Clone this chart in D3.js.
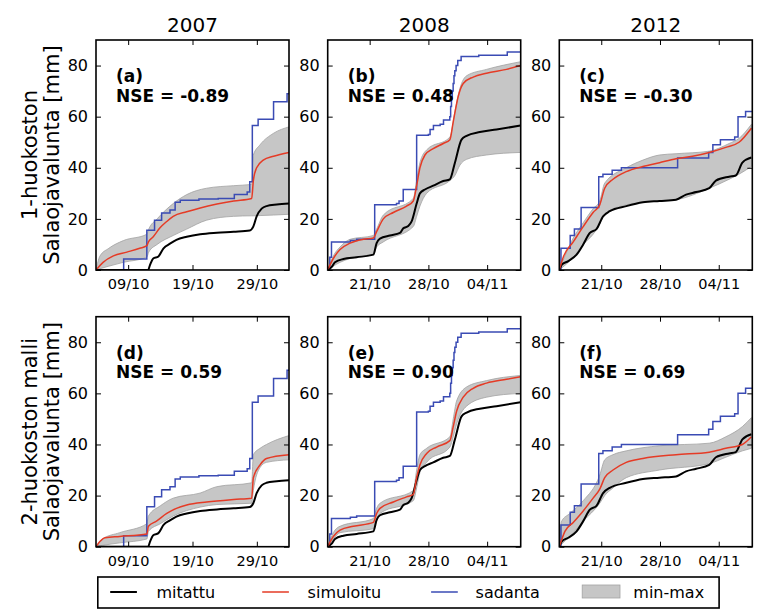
<!DOCTYPE html>
<html>
<head>
<meta charset="utf-8">
<script src="https://cdn.jsdelivr.net/npm/d3@7"></script>
<style>
  html, body { margin: 0; padding: 0; background: #fff; }
  svg { display: block; font-family: "DejaVu Sans", sans-serif; }
</style>
</head>
<body>
<svg id="chart" width="768" height="611"></svg>
<script>
// ---------------- DATA (day = day of October; >31 means November) ----------------
const years = [2007, 2008, 2012];
const dayDomains = [[4, 34], [16, 39], [16, 39]];
const xTickDays = [[9, 19, 29], [21, 28, 35], [21, 28, 35]];
const yTicks = [0, 20, 40, 60, 80];
const rowLabels = [["1-huokoston", "Salaojavalunta [mm]"], ["2-huokoston malli", "Salaojavalunta [mm]"]];
const panelTags = [["(a)", "(b)", "(c)"], ["(d)", "(e)", "(f)"]];
const nseValues = [["-0.89", "0.48", "-0.30"], ["0.59", "0.90", "0.69"]];
const legendLabels = ["mitattu", "simuloitu", "sadanta", "min-max"];

// precipitation (sadanta), cumulative, step
const precip2007 = [[4,0],[8.3,4.3],[11.9,15.6],[13.1,19.5],[14.2,22.3],[15.5,23.5],[16.3,26.5],[17.1,27.3],[20,27.8],[23,28],[25.5,29.5],[27.5,30.5],[27.9,34.5],[28.3,56.5],[29.2,59],[31.6,65.8],[33.7,69],[34,69]];
const precip2008 = [[16,0],[16.25,5],[16.45,11],[18.7,11.5],[19.45,12],[21.6,25.5],[24.2,26],[24.5,27],[25.0,31.5],[26.6,52.7],[28.0,53],[28.2,55],[28.6,56.5],[29.4,57],[29.8,58.7],[30.55,60],[30.65,64],[30.75,67],[30.85,70],[30.95,73],[31.05,76],[31.15,78],[31.3,80],[31.5,82],[31.9,83.5],[34,84],[37.4,85.3],[39,85.3]];
const precip2012 = [[16,0],[16.2,8.5],[17.3,13.5],[17.8,16],[18.6,24.5],[20.7,36.5],[21.2,37.5],[22.3,39],[23.4,40],[30.1,43.8],[33.8,46],[34.3,49],[35.2,51],[36.9,52],[37.3,60],[38.2,62],[39,62]];

// measured (mitattu)
const obs2007 = [[4,0],[12.1,0],[12.4,2],[12.9,4.5],[13.7,5.3],[14.5,8.5],[15.5,10.3],[16.5,11.8],[18.1,13],[20.2,14],[22.8,14.6],[25.4,15],[27.9,15.5],[28.45,17],[28.97,21],[29.75,24],[30.5,25],[32.1,25.6],[34,26]];
const obs2008 = [[16,0],[16.48,1.2],[16.87,3],[17.87,4.3],[19.45,5],[21.44,6],[21.83,10.5],[22.23,12.3],[23.42,13.5],[24.61,14.5],[25.01,16.3],[25.6,17.2],[26.0,19],[26.6,26],[26.99,30],[27.59,31.5],[28.58,33],[29.77,34.8],[30.56,35.5],[31.16,42],[31.95,51],[32.55,52.5],[34.13,54],[36.12,55],[38.98,56.5]];
const obs2012 = [[16,0],[16.28,2],[17.07,3.5],[18.06,6],[18.85,10],[19.64,14.5],[20.43,16],[21.22,21],[22.01,23],[23.98,25],[25.96,26.5],[27.94,27],[29.91,27.5],[31.1,29.5],[32.3,30.5],[33.87,32],[34.66,35],[36.24,36.5],[37.03,37],[37.82,42],[38.89,44]];

// simulated (simuloitu) — row 1: 1-huokoston, row 2: 2-huokoston malli
const sim1_2007 = [[4,0],[5.1,3],[6.7,5.5],[8.8,7],[10.8,8.5],[11.9,9.5],[12.15,11],[12.9,13],[13.95,16.5],[15,19],[16,21],[18.1,22.8],[20.2,24.3],[22.8,25.8],[25.4,27],[28.2,28],[28.46,35],[28.97,40],[30,43],[31.6,44.5],[34,46]];
const sim1_2008 = [[16,0],[16.67,4.5],[17.47,8],[18.66,10.5],[20.25,12],[21.44,12.5],[21.83,15],[22.63,20],[23.82,22.5],[25.4,25],[26.2,27],[26.6,33],[26.99,40],[27.59,45],[28.58,47.5],[29.77,49.5],[30.56,51],[30.96,58],[31.56,68],[32.15,73],[33.34,75.5],[34.93,77],[37.31,78.5],[38.98,80]];
const sim1_2012 = [[16,0],[16.47,5],[17.66,11],[18.85,17],[20.03,22.5],[20.82,25.5],[21.41,32],[22.4,35.5],[23.98,38.5],[25.96,40.5],[27.94,42],[29.91,43.5],[31.89,44.5],[33.87,46],[35.84,48],[37.42,50],[38.89,55.5]];
const sim2_2007 = [[4,0],[4.6,2],[5.4,3.5],[7.7,4],[11.9,5],[12.15,8],[13.4,10],[15,13],[16.5,15],[18.1,16.3],[21.2,17.5],[25.4,18.5],[28.2,19],[28.46,27],[29.5,32],[30.5,34.5],[34,36]];
const sim2_2008 = [[16,0],[16.67,4],[17.47,6.5],[19.06,8],[21.44,9.5],[21.83,13],[22.23,15],[23.82,17.5],[25.4,19.5],[26.2,20.5],[26.6,27],[26.99,32],[27.79,36.5],[28.98,39],[30.56,41.5],[30.96,47],[31.36,53],[32.15,58.5],[33.34,62],[34.93,64],[37.31,65.5],[38.98,66.5]];
const sim2_2012 = [[16,0],[16.67,6],[17.66,9.5],[18.85,14],[20.03,19],[20.82,22.5],[21.41,27],[22.4,30],[23.98,33],[25.96,34.5],[29.91,36],[33.87,37],[35.84,38.5],[37.82,40],[38.89,43]];

// min-max bands
const band1_2007Days = [4,4.6,6,8.25,11.9,12.2,13.5,16,18.1,21.2,25.4,28.2,28.46,29.5,31.6,34];
const band1_2007Max  = [0,5.4,8.5,11.5,14,16,20,26,29.5,32,33,33.5,45,49,53.5,56];
const band1_2007Min  = [0,0.5,1.5,3,5,7,10,13.5,16,19.5,21,21.2,21.2,21.3,21.5,21.8];
const band1_2008Days = [16,16.67,17.47,18.66,21.44,21.83,22.63,26.2,26.6,26.99,27.79,30.56,31.16,31.75,32.55,34.93,38.98];
const band1_2008Max  = [0,5.5,9,12,13.5,16,21.5,28,35,42,47,52,62,71,76,78.5,81.5];
const band1_2008Min  = [0,1.5,3,4.5,6,9,11,17,21,25,30,35,37,41,43.3,45,46];
const band1_2012Days = [16,17.66,18.85,20.03,20.82,21.41,23.98,25.96,27.94,29.91,33.87,36.24,37.42,38.89];
const band1_2012Max  = [0,12.5,18.5,24,27,34,40,43,45,45.5,46.5,49.5,51.5,57];
const band1_2012Min  = [0,5,10,14,18,22,25.5,26.5,27,27.5,32,35.5,37.5,40.5];
const band2_2007Days = [4,5,7.7,11.9,12.15,14,16,20.2,22.8,28.2,28.46,29.5,30.5,34];
const band2_2007Max  = [0,3,5.5,9,12,16,19,21,23.5,25,36,38.5,40,43.5];
const band2_2007Min  = [0,0.5,1.5,3,6,9,12,15.5,16.5,17,22,31,33,34];
const band2_2008Days = [16,16.67,17.47,21.44,21.83,22.23,26.2,26.6,26.99,27.79,30.56,30.96,31.36,32.55,34.93,38.98];
const band2_2008Max  = [0,5.5,8,11,15,17,22,30,36,38.5,43,50,57,62.5,65,67];
const band2_2008Min  = [0,3,5.5,7,10,13,18,23,29,33,39,43,48,55,58.5,60];
const band2_2012Days = [16,16.28,17.26,18.85,20.82,21.41,22.4,23.98,27.94,33.87,35.84,37.82,38.89];
const band2_2012Max  = [0,10,13,18,28,34,36,37.5,39.5,40.5,43,47,50.5];
const band2_2012Min  = [0,1,4,10,17,20,23,27,30,32.5,35,37.5,38.5];

// ---------------- assemble ----------------
const precipByYear = [precip2007, precip2008, precip2012];
const obsByYear = [obs2007, obs2008, obs2012];
const simRows = [[sim1_2007, sim1_2008, sim1_2012], [sim2_2007, sim2_2008, sim2_2012]];
const zipBand = (d, lo, hi) => d.map((v, i) => [v, lo[i], hi[i]]);
const bandRows = [
  [zipBand(band1_2007Days, band1_2007Min, band1_2007Max), zipBand(band1_2008Days, band1_2008Min, band1_2008Max), zipBand(band1_2012Days, band1_2012Min, band1_2012Max)],
  [zipBand(band2_2007Days, band2_2007Min, band2_2007Max), zipBand(band2_2008Days, band2_2008Min, band2_2008Max), zipBand(band2_2012Days, band2_2012Min, band2_2012Max)]
];

// ---------------- layout ----------------
const colX = [96, 327.7, 559.3];
const rowY = [40, 316.7];
const pw = 193, ph = 230;
const COL = { obs: "#000000", sim: "#e53b26", pre: "#3a4bb4", band: "#c6c6c6", bandEdge: "#a2a2a2" };
const FONT = "DejaVu Sans, sans-serif";

const toDate = (year, day) => new Date(Date.UTC(year, 9, 1) + (day - 1) * 864e5);
const svg = d3.select("#chart");
svg.append("rect").attr("width", 768).attr("height", 611).attr("fill", "#fff");
const defs = svg.append("defs");

for (let r = 0; r < 2; r++) {
  for (let c = 0; c < 3; c++) {
    const year = years[c];
    const x = d3.scaleUtc()
      .domain(dayDomains[c].map(d => toDate(year, d)))
      .range([0, pw]);
    const y = d3.scaleLinear().domain([0, 90]).range([ph, 0]);
    const g = svg.append("g").attr("transform", `translate(${colX[c]},${rowY[r]})`);
    const cid = `clip-${r}-${c}`;
    defs.append("clipPath").attr("id", cid).append("rect").attr("width", pw).attr("height", ph);
    const plot = g.append("g").attr("clip-path", `url(#${cid})`);

    const area = d3.area()
      .x(d => x(toDate(year, d[0])))
      .y0(d => y(d[1])).y1(d => y(d[2]))
      .curve(d3.curveMonotoneX);
    plot.append("path").datum(bandRows[r][c]).attr("d", area)
      .attr("fill", COL.band).attr("stroke", COL.bandEdge).attr("stroke-width", 0.8);

    const smooth = d3.line().x(d => x(toDate(year, d[0]))).y(d => y(d[1])).curve(d3.curveMonotoneX);
    const step = d3.line().x(d => x(toDate(year, d[0]))).y(d => y(d[1])).curve(d3.curveStepAfter);

    plot.append("path").datum(precipByYear[c]).attr("d", step)
      .attr("fill", "none").attr("stroke", COL.pre).attr("stroke-width", 1.5);
    plot.append("path").datum(obsByYear[c]).attr("d", smooth)
      .attr("fill", "none").attr("stroke", COL.obs).attr("stroke-width", 2);
    plot.append("path").datum(simRows[r][c]).attr("d", smooth)
      .attr("fill", "none").attr("stroke", COL.sim).attr("stroke-width", 1.5);

    const tickVals = xTickDays[c].map(d => toDate(year, d));
    const fmt = d3.utcFormat("%d/%m");
    const ax = [
      g.append("g").attr("transform", `translate(0,${ph})`)
        .call(d3.axisBottom(x).tickValues(tickVals).tickFormat(fmt).tickSize(-5).tickPadding(9)),
      g.append("g")
        .call(d3.axisTop(x).tickValues(tickVals).tickFormat("").tickSize(-5)),
      g.append("g")
        .call(d3.axisLeft(y).tickValues(yTicks).tickSize(-5).tickPadding(8)),
      g.append("g").attr("transform", `translate(${pw},0)`)
        .call(d3.axisRight(y).tickValues(yTicks).tickFormat("").tickSize(-5))
    ];
    ax.forEach(a => {
      a.select(".domain").remove();
      a.selectAll(".tick line").attr("stroke", "#000").attr("stroke-width", 1);
      a.selectAll(".tick text").attr("fill", "#000").style("font-family", FONT);
    });
    ax[0].selectAll(".tick text").style("font-size", "14.5px");
    ax[2].selectAll(".tick text").style("font-size", "16px");

    g.append("rect").attr("width", pw).attr("height", ph)
      .attr("fill", "none").attr("stroke", "#000").attr("stroke-width", 1.6);

    g.append("text").attr("x", 20).attr("y", 42)
      .style("font-family", FONT).style("font-size", "17px").style("font-weight", "bold")
      .text(panelTags[r][c]);
    g.append("text").attr("x", 20).attr("y", 61.5)
      .style("font-family", FONT).style("font-size", "17px").style("font-weight", "bold")
      .text("NSE = " + nseValues[r][c]);

    if (r === 0) {
      g.append("text").attr("x", pw / 2).attr("y", -8).attr("text-anchor", "middle")
        .style("font-family", FONT).style("font-size", "20px").text(String(year));
    }
  }
  // row label (two lines, rotated)
  const cy = rowY[r] + ph / 2;
  rowLabels[r].forEach((t, i) => {
    svg.append("text")
      .attr("transform", `translate(${i === 0 ? 37 : 59},${cy}) rotate(-90)`)
      .attr("text-anchor", "middle")
      .style("font-family", FONT).style("font-size", "21px")
      .text(t);
  });
}

// ---------------- legend ----------------
const lg = svg.append("g");
lg.append("rect").attr("x", 97.8).attr("y", 577).attr("width", 621.3).attr("height", 31)
  .attr("fill", "#fff").attr("stroke", "#000").attr("stroke-width", 1.6);
const legendItems = [
  { kind: "line", color: COL.obs, w: 2, x0: 110.2, tx: 156.4 },
  { kind: "line", color: COL.sim, w: 1.5, x0: 262.2, tx: 307.6 },
  { kind: "line", color: COL.pre, w: 1.5, x0: 431.1, tx: 475.6 },
  { kind: "rect", color: COL.band, x0: 582.2, tx: 633.3 }
];
legendItems.forEach((it, i) => {
  if (it.kind === "line") {
    lg.append("line").attr("x1", it.x0).attr("x2", it.x0 + 26.7).attr("y1", 592).attr("y2", 592)
      .attr("stroke", it.color).attr("stroke-width", it.w);
  } else {
    lg.append("rect").attr("x", it.x0).attr("y", 585).attr("width", 37.8).attr("height", 13)
      .attr("fill", it.color).attr("stroke", COL.bandEdge).attr("stroke-width", 0.8);
  }
  lg.append("text").attr("x", it.tx).attr("y", 598)
    .style("font-family", FONT).style("font-size", "16px").text(legendLabels[i]);
});
</script>
</body>
</html>
